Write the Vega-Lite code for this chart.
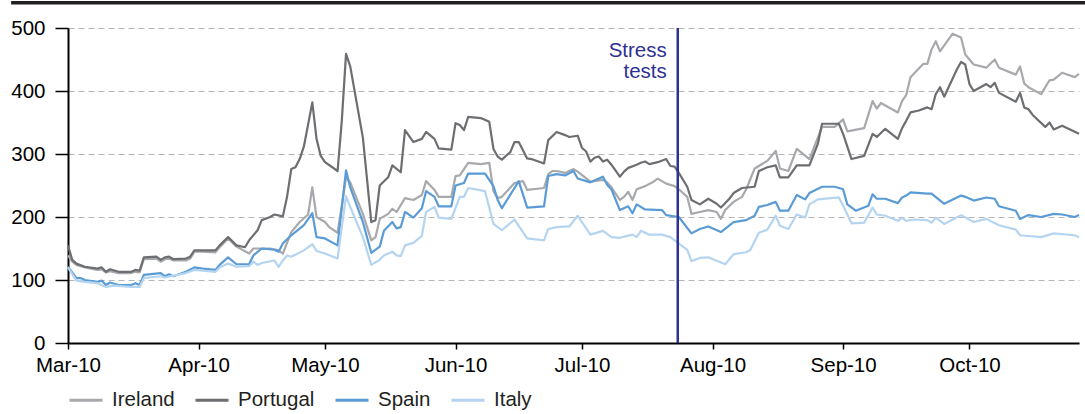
{
  "$schema": "https://vega.github.io/schema/vega-lite/v6.json",
  "width": 1011,
  "height": 315,
  "autosize": {"type": "none"},
  "padding": {"left": 68, "top": 28, "right": 6, "bottom": 71},
  "background": "white",
  "config": {
    "font": "Liberation Sans",
    "view": {"stroke": null},
    "legend": {"labelFont": "Liberation Sans"}
  },
  "datasets": {
    "cds": [
      {"c":"Ireland","d":"2010-03-01","v":139},{"c":"Ireland","d":"2010-03-02","v":129},{"c":"Ireland","d":"2010-03-03","v":124},{"c":"Ireland","d":"2010-03-05","v":120},{"c":"Ireland","d":"2010-03-08","v":116},{"c":"Ireland","d":"2010-03-09","v":117},{"c":"Ireland","d":"2010-03-10","v":112},{"c":"Ireland","d":"2010-03-11","v":114},{"c":"Ireland","d":"2010-03-13","v":111},{"c":"Ireland","d":"2010-03-16","v":111},{"c":"Ireland","d":"2010-03-17","v":113},{"c":"Ireland","d":"2010-03-18","v":112},{"c":"Ireland","d":"2010-03-19","v":133},{"c":"Ireland","d":"2010-03-22","v":134},{"c":"Ireland","d":"2010-03-23","v":129},{"c":"Ireland","d":"2010-03-24","v":133},{"c":"Ireland","d":"2010-03-25","v":134},{"c":"Ireland","d":"2010-03-26","v":131},{"c":"Ireland","d":"2010-03-29","v":131},{"c":"Ireland","d":"2010-03-30","v":134},{"c":"Ireland","d":"2010-03-31","v":145},{"c":"Ireland","d":"2010-04-02","v":145},{"c":"Ireland","d":"2010-04-05","v":144},{"c":"Ireland","d":"2010-04-06","v":152},{"c":"Ireland","d":"2010-04-08","v":166},{"c":"Ireland","d":"2010-04-10","v":153},{"c":"Ireland","d":"2010-04-13","v":142},{"c":"Ireland","d":"2010-04-14","v":150},{"c":"Ireland","d":"2010-04-18","v":150},{"c":"Ireland","d":"2010-04-20","v":147},{"c":"Ireland","d":"2010-04-21","v":142},{"c":"Ireland","d":"2010-04-22","v":159},{"c":"Ireland","d":"2010-04-23","v":176},{"c":"Ireland","d":"2010-04-25","v":192},{"c":"Ireland","d":"2010-04-27","v":204},{"c":"Ireland","d":"2010-04-28","v":247},{"c":"Ireland","d":"2010-04-29","v":200},{"c":"Ireland","d":"2010-05-01","v":192},{"c":"Ireland","d":"2010-05-02","v":184},{"c":"Ireland","d":"2010-05-04","v":175},{"c":"Ireland","d":"2010-05-05","v":218},{"c":"Ireland","d":"2010-05-06","v":263},{"c":"Ireland","d":"2010-05-07","v":255},{"c":"Ireland","d":"2010-05-10","v":205},{"c":"Ireland","d":"2010-05-12","v":163},{"c":"Ireland","d":"2010-05-13","v":168},{"c":"Ireland","d":"2010-05-14","v":197},{"c":"Ireland","d":"2010-05-16","v":205},{"c":"Ireland","d":"2010-05-17","v":213},{"c":"Ireland","d":"2010-05-18","v":208},{"c":"Ireland","d":"2010-05-20","v":230},{"c":"Ireland","d":"2010-05-22","v":227},{"c":"Ireland","d":"2010-05-24","v":235},{"c":"Ireland","d":"2010-05-25","v":257},{"c":"Ireland","d":"2010-05-27","v":243},{"c":"Ireland","d":"2010-05-28","v":232},{"c":"Ireland","d":"2010-05-31","v":232},{"c":"Ireland","d":"2010-06-01","v":265},{"c":"Ireland","d":"2010-06-02","v":266},{"c":"Ireland","d":"2010-06-04","v":286},{"c":"Ireland","d":"2010-06-07","v":284},{"c":"Ireland","d":"2010-06-09","v":286},{"c":"Ireland","d":"2010-06-10","v":241},{"c":"Ireland","d":"2010-06-11","v":230},{"c":"Ireland","d":"2010-06-12","v":232},{"c":"Ireland","d":"2010-06-15","v":254},{"c":"Ireland","d":"2010-06-17","v":257},{"c":"Ireland","d":"2010-06-18","v":243},{"c":"Ireland","d":"2010-06-22","v":246},{"c":"Ireland","d":"2010-06-23","v":268},{"c":"Ireland","d":"2010-06-24","v":273},{"c":"Ireland","d":"2010-06-25","v":273},{"c":"Ireland","d":"2010-06-27","v":270},{"c":"Ireland","d":"2010-06-29","v":276},{"c":"Ireland","d":"2010-06-30","v":272},{"c":"Ireland","d":"2010-07-03","v":256},{"c":"Ireland","d":"2010-07-06","v":259},{"c":"Ireland","d":"2010-07-07","v":255},{"c":"Ireland","d":"2010-07-08","v":247},{"c":"Ireland","d":"2010-07-10","v":227},{"c":"Ireland","d":"2010-07-11","v":232},{"c":"Ireland","d":"2010-07-12","v":240},{"c":"Ireland","d":"2010-07-13","v":227},{"c":"Ireland","d":"2010-07-14","v":244},{"c":"Ireland","d":"2010-07-16","v":249},{"c":"Ireland","d":"2010-07-18","v":256},{"c":"Ireland","d":"2010-07-19","v":261},{"c":"Ireland","d":"2010-07-21","v":253},{"c":"Ireland","d":"2010-07-23","v":249},{"c":"Ireland","d":"2010-07-24","v":244},{"c":"Ireland","d":"2010-07-26","v":232},{"c":"Ireland","d":"2010-07-27","v":205},{"c":"Ireland","d":"2010-07-29","v":208},{"c":"Ireland","d":"2010-07-31","v":211},{"c":"Ireland","d":"2010-08-02","v":208},{"c":"Ireland","d":"2010-08-03","v":197},{"c":"Ireland","d":"2010-08-04","v":211},{"c":"Ireland","d":"2010-08-06","v":224},{"c":"Ireland","d":"2010-08-08","v":232},{"c":"Ireland","d":"2010-08-09","v":244},{"c":"Ireland","d":"2010-08-11","v":277},{"c":"Ireland","d":"2010-08-14","v":289},{"c":"Ireland","d":"2010-08-16","v":305},{"c":"Ireland","d":"2010-08-17","v":277},{"c":"Ireland","d":"2010-08-19","v":273},{"c":"Ireland","d":"2010-08-21","v":308},{"c":"Ireland","d":"2010-08-24","v":292},{"c":"Ireland","d":"2010-08-27","v":343},{"c":"Ireland","d":"2010-08-30","v":343},{"c":"Ireland","d":"2010-09-01","v":355},{"c":"Ireland","d":"2010-09-02","v":336},{"c":"Ireland","d":"2010-09-06","v":341},{"c":"Ireland","d":"2010-09-08","v":384},{"c":"Ireland","d":"2010-09-09","v":372},{"c":"Ireland","d":"2010-09-10","v":381},{"c":"Ireland","d":"2010-09-14","v":366},{"c":"Ireland","d":"2010-09-15","v":384},{"c":"Ireland","d":"2010-09-16","v":394},{"c":"Ireland","d":"2010-09-17","v":422},{"c":"Ireland","d":"2010-09-20","v":443},{"c":"Ireland","d":"2010-09-21","v":443},{"c":"Ireland","d":"2010-09-22","v":466},{"c":"Ireland","d":"2010-09-23","v":479},{"c":"Ireland","d":"2010-09-24","v":463},{"c":"Ireland","d":"2010-09-27","v":491},{"c":"Ireland","d":"2010-09-29","v":485},{"c":"Ireland","d":"2010-09-30","v":458},{"c":"Ireland","d":"2010-10-02","v":442},{"c":"Ireland","d":"2010-10-05","v":437},{"c":"Ireland","d":"2010-10-07","v":450},{"c":"Ireland","d":"2010-10-08","v":437},{"c":"Ireland","d":"2010-10-12","v":426},{"c":"Ireland","d":"2010-10-13","v":439},{"c":"Ireland","d":"2010-10-14","v":412},{"c":"Ireland","d":"2010-10-15","v":406},{"c":"Ireland","d":"2010-10-18","v":395},{"c":"Ireland","d":"2010-10-20","v":417},{"c":"Ireland","d":"2010-10-21","v":418},{"c":"Ireland","d":"2010-10-23","v":429},{"c":"Ireland","d":"2010-10-26","v":422},{"c":"Ireland","d":"2010-10-27","v":427},

      {"c":"Portugal","d":"2010-03-01","v":155},{"c":"Portugal","d":"2010-03-02","v":132},{"c":"Portugal","d":"2010-03-03","v":126},{"c":"Portugal","d":"2010-03-05","v":121},{"c":"Portugal","d":"2010-03-08","v":118},{"c":"Portugal","d":"2010-03-09","v":120},{"c":"Portugal","d":"2010-03-10","v":113},{"c":"Portugal","d":"2010-03-11","v":117},{"c":"Portugal","d":"2010-03-13","v":113},{"c":"Portugal","d":"2010-03-16","v":113},{"c":"Portugal","d":"2010-03-17","v":116},{"c":"Portugal","d":"2010-03-18","v":115},{"c":"Portugal","d":"2010-03-19","v":136},{"c":"Portugal","d":"2010-03-22","v":137},{"c":"Portugal","d":"2010-03-23","v":132},{"c":"Portugal","d":"2010-03-24","v":136},{"c":"Portugal","d":"2010-03-25","v":137},{"c":"Portugal","d":"2010-03-26","v":133},{"c":"Portugal","d":"2010-03-29","v":134},{"c":"Portugal","d":"2010-03-30","v":137},{"c":"Portugal","d":"2010-03-31","v":147},{"c":"Portugal","d":"2010-04-02","v":147},{"c":"Portugal","d":"2010-04-05","v":147},{"c":"Portugal","d":"2010-04-06","v":155},{"c":"Portugal","d":"2010-04-08","v":168},{"c":"Portugal","d":"2010-04-10","v":155},{"c":"Portugal","d":"2010-04-12","v":152},{"c":"Portugal","d":"2010-04-13","v":163},{"c":"Portugal","d":"2010-04-15","v":179},{"c":"Portugal","d":"2010-04-16","v":195},{"c":"Portugal","d":"2010-04-18","v":200},{"c":"Portugal","d":"2010-04-19","v":204},{"c":"Portugal","d":"2010-04-21","v":201},{"c":"Portugal","d":"2010-04-22","v":232},{"c":"Portugal","d":"2010-04-23","v":276},{"c":"Portugal","d":"2010-04-24","v":279},{"c":"Portugal","d":"2010-04-25","v":292},{"c":"Portugal","d":"2010-04-26","v":312},{"c":"Portugal","d":"2010-04-28","v":382},{"c":"Portugal","d":"2010-04-29","v":324},{"c":"Portugal","d":"2010-04-30","v":297},{"c":"Portugal","d":"2010-05-01","v":287},{"c":"Portugal","d":"2010-05-04","v":273},{"c":"Portugal","d":"2010-05-05","v":353},{"c":"Portugal","d":"2010-05-06","v":459},{"c":"Portugal","d":"2010-05-07","v":439},{"c":"Portugal","d":"2010-05-10","v":326},{"c":"Portugal","d":"2010-05-12","v":192},{"c":"Portugal","d":"2010-05-13","v":195},{"c":"Portugal","d":"2010-05-14","v":250},{"c":"Portugal","d":"2010-05-16","v":263},{"c":"Portugal","d":"2010-05-17","v":282},{"c":"Portugal","d":"2010-05-19","v":271},{"c":"Portugal","d":"2010-05-20","v":338},{"c":"Portugal","d":"2010-05-22","v":319},{"c":"Portugal","d":"2010-05-24","v":324},{"c":"Portugal","d":"2010-05-25","v":335},{"c":"Portugal","d":"2010-05-27","v":324},{"c":"Portugal","d":"2010-05-28","v":309},{"c":"Portugal","d":"2010-05-31","v":307},{"c":"Portugal","d":"2010-06-01","v":349},{"c":"Portugal","d":"2010-06-02","v":346},{"c":"Portugal","d":"2010-06-03","v":338},{"c":"Portugal","d":"2010-06-04","v":359},{"c":"Portugal","d":"2010-06-07","v":357},{"c":"Portugal","d":"2010-06-09","v":351},{"c":"Portugal","d":"2010-06-10","v":308},{"c":"Portugal","d":"2010-06-11","v":296},{"c":"Portugal","d":"2010-06-12","v":291},{"c":"Portugal","d":"2010-06-14","v":303},{"c":"Portugal","d":"2010-06-15","v":319},{"c":"Portugal","d":"2010-06-16","v":319},{"c":"Portugal","d":"2010-06-18","v":293},{"c":"Portugal","d":"2010-06-19","v":292},{"c":"Portugal","d":"2010-06-22","v":285},{"c":"Portugal","d":"2010-06-23","v":322},{"c":"Portugal","d":"2010-06-25","v":335},{"c":"Portugal","d":"2010-06-27","v":330},{"c":"Portugal","d":"2010-06-28","v":327},{"c":"Portugal","d":"2010-06-30","v":329},{"c":"Portugal","d":"2010-07-01","v":310},{"c":"Portugal","d":"2010-07-02","v":304},{"c":"Portugal","d":"2010-07-03","v":288},{"c":"Portugal","d":"2010-07-04","v":294},{"c":"Portugal","d":"2010-07-05","v":296},{"c":"Portugal","d":"2010-07-06","v":288},{"c":"Portugal","d":"2010-07-07","v":291},{"c":"Portugal","d":"2010-07-08","v":283},{"c":"Portugal","d":"2010-07-10","v":264},{"c":"Portugal","d":"2010-07-11","v":272},{"c":"Portugal","d":"2010-07-12","v":278},{"c":"Portugal","d":"2010-07-14","v":283},{"c":"Portugal","d":"2010-07-15","v":286},{"c":"Portugal","d":"2010-07-16","v":288},{"c":"Portugal","d":"2010-07-17","v":284},{"c":"Portugal","d":"2010-07-19","v":287},{"c":"Portugal","d":"2010-07-21","v":292},{"c":"Portugal","d":"2010-07-22","v":281},{"c":"Portugal","d":"2010-07-23","v":280},{"c":"Portugal","d":"2010-07-24","v":270},{"c":"Portugal","d":"2010-07-26","v":248},{"c":"Portugal","d":"2010-07-27","v":227},{"c":"Portugal","d":"2010-07-29","v":220},{"c":"Portugal","d":"2010-07-31","v":229},{"c":"Portugal","d":"2010-08-02","v":221},{"c":"Portugal","d":"2010-08-03","v":215},{"c":"Portugal","d":"2010-08-05","v":229},{"c":"Portugal","d":"2010-08-06","v":238},{"c":"Portugal","d":"2010-08-08","v":246},{"c":"Portugal","d":"2010-08-11","v":248},{"c":"Portugal","d":"2010-08-12","v":273},{"c":"Portugal","d":"2010-08-14","v":279},{"c":"Portugal","d":"2010-08-16","v":282},{"c":"Portugal","d":"2010-08-17","v":263},{"c":"Portugal","d":"2010-08-19","v":263},{"c":"Portugal","d":"2010-08-21","v":282},{"c":"Portugal","d":"2010-08-24","v":282},{"c":"Portugal","d":"2010-08-26","v":316},{"c":"Portugal","d":"2010-08-27","v":348},{"c":"Portugal","d":"2010-08-31","v":348},{"c":"Portugal","d":"2010-09-01","v":332},{"c":"Portugal","d":"2010-09-03","v":292},{"c":"Portugal","d":"2010-09-06","v":297},{"c":"Portugal","d":"2010-09-08","v":332},{"c":"Portugal","d":"2010-09-09","v":327},{"c":"Portugal","d":"2010-09-11","v":340},{"c":"Portugal","d":"2010-09-14","v":324},{"c":"Portugal","d":"2010-09-15","v":341},{"c":"Portugal","d":"2010-09-16","v":353},{"c":"Portugal","d":"2010-09-17","v":366},{"c":"Portugal","d":"2010-09-19","v":369},{"c":"Portugal","d":"2010-09-21","v":374},{"c":"Portugal","d":"2010-09-22","v":371},{"c":"Portugal","d":"2010-09-23","v":395},{"c":"Portugal","d":"2010-09-24","v":406},{"c":"Portugal","d":"2010-09-25","v":391},{"c":"Portugal","d":"2010-09-28","v":434},{"c":"Portugal","d":"2010-09-29","v":446},{"c":"Portugal","d":"2010-09-30","v":442},{"c":"Portugal","d":"2010-10-01","v":411},{"c":"Portugal","d":"2010-10-02","v":400},{"c":"Portugal","d":"2010-10-05","v":411},{"c":"Portugal","d":"2010-10-06","v":406},{"c":"Portugal","d":"2010-10-07","v":413},{"c":"Portugal","d":"2010-10-08","v":397},{"c":"Portugal","d":"2010-10-12","v":383},{"c":"Portugal","d":"2010-10-13","v":397},{"c":"Portugal","d":"2010-10-14","v":374},{"c":"Portugal","d":"2010-10-15","v":371},{"c":"Portugal","d":"2010-10-16","v":362},{"c":"Portugal","d":"2010-10-19","v":343},{"c":"Portugal","d":"2010-10-20","v":350},{"c":"Portugal","d":"2010-10-21","v":339},{"c":"Portugal","d":"2010-10-23","v":345},{"c":"Portugal","d":"2010-10-27","v":332},

      {"c":"Spain","d":"2010-03-01","v":121},{"c":"Spain","d":"2010-03-03","v":103},{"c":"Spain","d":"2010-03-04","v":103},{"c":"Spain","d":"2010-03-05","v":100},{"c":"Spain","d":"2010-03-08","v":97},{"c":"Spain","d":"2010-03-09","v":99},{"c":"Spain","d":"2010-03-10","v":92},{"c":"Spain","d":"2010-03-11","v":96},{"c":"Spain","d":"2010-03-13","v":92},{"c":"Spain","d":"2010-03-16","v":92},{"c":"Spain","d":"2010-03-17","v":95},{"c":"Spain","d":"2010-03-18","v":92},{"c":"Spain","d":"2010-03-19","v":108},{"c":"Spain","d":"2010-03-23","v":111},{"c":"Spain","d":"2010-03-24","v":106},{"c":"Spain","d":"2010-03-25","v":109},{"c":"Spain","d":"2010-03-26","v":106},{"c":"Spain","d":"2010-03-29","v":113},{"c":"Spain","d":"2010-03-31","v":120},{"c":"Spain","d":"2010-04-02","v":118},{"c":"Spain","d":"2010-04-05","v":116},{"c":"Spain","d":"2010-04-06","v":124},{"c":"Spain","d":"2010-04-08","v":136},{"c":"Spain","d":"2010-04-10","v":125},{"c":"Spain","d":"2010-04-13","v":125},{"c":"Spain","d":"2010-04-14","v":139},{"c":"Spain","d":"2010-04-16","v":150},{"c":"Spain","d":"2010-04-19","v":148},{"c":"Spain","d":"2010-04-20","v":145},{"c":"Spain","d":"2010-04-21","v":158},{"c":"Spain","d":"2010-04-23","v":171},{"c":"Spain","d":"2010-04-26","v":187},{"c":"Spain","d":"2010-04-28","v":206},{"c":"Spain","d":"2010-04-29","v":168},{"c":"Spain","d":"2010-05-01","v":166},{"c":"Spain","d":"2010-05-04","v":155},{"c":"Spain","d":"2010-05-05","v":215},{"c":"Spain","d":"2010-05-06","v":274},{"c":"Spain","d":"2010-05-07","v":247},{"c":"Spain","d":"2010-05-10","v":192},{"c":"Spain","d":"2010-05-12","v":143},{"c":"Spain","d":"2010-05-14","v":153},{"c":"Spain","d":"2010-05-15","v":178},{"c":"Spain","d":"2010-05-17","v":192},{"c":"Spain","d":"2010-05-18","v":182},{"c":"Spain","d":"2010-05-19","v":184},{"c":"Spain","d":"2010-05-20","v":208},{"c":"Spain","d":"2010-05-22","v":199},{"c":"Spain","d":"2010-05-24","v":214},{"c":"Spain","d":"2010-05-25","v":241},{"c":"Spain","d":"2010-05-27","v":232},{"c":"Spain","d":"2010-05-28","v":217},{"c":"Spain","d":"2010-05-31","v":217},{"c":"Spain","d":"2010-06-01","v":250},{"c":"Spain","d":"2010-06-03","v":254},{"c":"Spain","d":"2010-06-04","v":269},{"c":"Spain","d":"2010-06-08","v":269},{"c":"Spain","d":"2010-06-10","v":249},{"c":"Spain","d":"2010-06-11","v":227},{"c":"Spain","d":"2010-06-12","v":214},{"c":"Spain","d":"2010-06-15","v":246},{"c":"Spain","d":"2010-06-16","v":257},{"c":"Spain","d":"2010-06-18","v":215},{"c":"Spain","d":"2010-06-22","v":217},{"c":"Spain","d":"2010-06-23","v":265},{"c":"Spain","d":"2010-06-25","v":268},{"c":"Spain","d":"2010-06-27","v":266},{"c":"Spain","d":"2010-06-29","v":273},{"c":"Spain","d":"2010-06-30","v":261},{"c":"Spain","d":"2010-07-03","v":255},{"c":"Spain","d":"2010-07-06","v":264},{"c":"Spain","d":"2010-07-07","v":251},{"c":"Spain","d":"2010-07-08","v":244},{"c":"Spain","d":"2010-07-10","v":211},{"c":"Spain","d":"2010-07-12","v":217},{"c":"Spain","d":"2010-07-13","v":206},{"c":"Spain","d":"2010-07-14","v":220},{"c":"Spain","d":"2010-07-16","v":212},{"c":"Spain","d":"2010-07-20","v":211},{"c":"Spain","d":"2010-07-21","v":203},{"c":"Spain","d":"2010-07-24","v":200},{"c":"Spain","d":"2010-07-27","v":174},{"c":"Spain","d":"2010-07-29","v":181},{"c":"Spain","d":"2010-07-31","v":185},{"c":"Spain","d":"2010-08-03","v":176},{"c":"Spain","d":"2010-08-06","v":192},{"c":"Spain","d":"2010-08-09","v":195},{"c":"Spain","d":"2010-08-11","v":202},{"c":"Spain","d":"2010-08-12","v":216},{"c":"Spain","d":"2010-08-14","v":219},{"c":"Spain","d":"2010-08-16","v":224},{"c":"Spain","d":"2010-08-17","v":210},{"c":"Spain","d":"2010-08-19","v":210},{"c":"Spain","d":"2010-08-21","v":235},{"c":"Spain","d":"2010-08-23","v":228},{"c":"Spain","d":"2010-08-24","v":238},{"c":"Spain","d":"2010-08-27","v":248},{"c":"Spain","d":"2010-08-30","v":248},{"c":"Spain","d":"2010-09-01","v":244},{"c":"Spain","d":"2010-09-02","v":220},{"c":"Spain","d":"2010-09-04","v":210},{"c":"Spain","d":"2010-09-07","v":218},{"c":"Spain","d":"2010-09-08","v":236},{"c":"Spain","d":"2010-09-09","v":229},{"c":"Spain","d":"2010-09-11","v":229},{"c":"Spain","d":"2010-09-14","v":222},{"c":"Spain","d":"2010-09-15","v":231},{"c":"Spain","d":"2010-09-16","v":234},{"c":"Spain","d":"2010-09-17","v":239},{"c":"Spain","d":"2010-09-21","v":237},{"c":"Spain","d":"2010-09-22","v":237},{"c":"Spain","d":"2010-09-25","v":221},{"c":"Spain","d":"2010-09-29","v":234},{"c":"Spain","d":"2010-09-30","v":232},{"c":"Spain","d":"2010-10-02","v":226},{"c":"Spain","d":"2010-10-05","v":231},{"c":"Spain","d":"2010-10-07","v":229},{"c":"Spain","d":"2010-10-08","v":217},{"c":"Spain","d":"2010-10-12","v":210},{"c":"Spain","d":"2010-10-13","v":197},{"c":"Spain","d":"2010-10-15","v":203},{"c":"Spain","d":"2010-10-18","v":200},{"c":"Spain","d":"2010-10-21","v":205},{"c":"Spain","d":"2010-10-23","v":204},{"c":"Spain","d":"2010-10-26","v":200},{"c":"Spain","d":"2010-10-27","v":203},

      {"c":"Italy","d":"2010-03-01","v":120},{"c":"Italy","d":"2010-03-03","v":99},{"c":"Italy","d":"2010-03-05","v":97},{"c":"Italy","d":"2010-03-08","v":95},{"c":"Italy","d":"2010-03-10","v":89},{"c":"Italy","d":"2010-03-12","v":91},{"c":"Italy","d":"2010-03-16","v":89},{"c":"Italy","d":"2010-03-18","v":89},{"c":"Italy","d":"2010-03-19","v":103},{"c":"Italy","d":"2010-03-23","v":106},{"c":"Italy","d":"2010-03-24","v":104},{"c":"Italy","d":"2010-03-29","v":111},{"c":"Italy","d":"2010-03-31","v":116},{"c":"Italy","d":"2010-04-02","v":115},{"c":"Italy","d":"2010-04-05","v":113},{"c":"Italy","d":"2010-04-06","v":120},{"c":"Italy","d":"2010-04-08","v":126},{"c":"Italy","d":"2010-04-10","v":121},{"c":"Italy","d":"2010-04-13","v":122},{"c":"Italy","d":"2010-04-14","v":129},{"c":"Italy","d":"2010-04-15","v":124},{"c":"Italy","d":"2010-04-16","v":127},{"c":"Italy","d":"2010-04-19","v":131},{"c":"Italy","d":"2010-04-20","v":121},{"c":"Italy","d":"2010-04-21","v":131},{"c":"Italy","d":"2010-04-22","v":139},{"c":"Italy","d":"2010-04-23","v":137},{"c":"Italy","d":"2010-04-26","v":147},{"c":"Italy","d":"2010-04-28","v":157},{"c":"Italy","d":"2010-04-29","v":146},{"c":"Italy","d":"2010-05-01","v":142},{"c":"Italy","d":"2010-05-04","v":134},{"c":"Italy","d":"2010-05-05","v":184},{"c":"Italy","d":"2010-05-06","v":233},{"c":"Italy","d":"2010-05-07","v":216},{"c":"Italy","d":"2010-05-10","v":168},{"c":"Italy","d":"2010-05-12","v":124},{"c":"Italy","d":"2010-05-14","v":132},{"c":"Italy","d":"2010-05-15","v":139},{"c":"Italy","d":"2010-05-17","v":145},{"c":"Italy","d":"2010-05-18","v":139},{"c":"Italy","d":"2010-05-19","v":138},{"c":"Italy","d":"2010-05-20","v":155},{"c":"Italy","d":"2010-05-22","v":159},{"c":"Italy","d":"2010-05-24","v":170},{"c":"Italy","d":"2010-05-25","v":208},{"c":"Italy","d":"2010-05-27","v":216},{"c":"Italy","d":"2010-05-28","v":199},{"c":"Italy","d":"2010-05-31","v":197},{"c":"Italy","d":"2010-06-02","v":232},{"c":"Italy","d":"2010-06-03","v":232},{"c":"Italy","d":"2010-06-04","v":246},{"c":"Italy","d":"2010-06-08","v":241},{"c":"Italy","d":"2010-06-10","v":189},{"c":"Italy","d":"2010-06-12","v":179},{"c":"Italy","d":"2010-06-15","v":196},{"c":"Italy","d":"2010-06-16","v":186},{"c":"Italy","d":"2010-06-18","v":166},{"c":"Italy","d":"2010-06-22","v":163},{"c":"Italy","d":"2010-06-23","v":181},{"c":"Italy","d":"2010-06-25","v":184},{"c":"Italy","d":"2010-06-28","v":185},{"c":"Italy","d":"2010-06-30","v":202},{"c":"Italy","d":"2010-07-03","v":172},{"c":"Italy","d":"2010-07-06","v":178},{"c":"Italy","d":"2010-07-08","v":168},{"c":"Italy","d":"2010-07-10","v":167},{"c":"Italy","d":"2010-07-13","v":172},{"c":"Italy","d":"2010-07-14","v":168},{"c":"Italy","d":"2010-07-15","v":178},{"c":"Italy","d":"2010-07-17","v":172},{"c":"Italy","d":"2010-07-20","v":172},{"c":"Italy","d":"2010-07-22","v":168},{"c":"Italy","d":"2010-07-23","v":163},{"c":"Italy","d":"2010-07-26","v":148},{"c":"Italy","d":"2010-07-27","v":130},{"c":"Italy","d":"2010-07-29","v":135},{"c":"Italy","d":"2010-07-31","v":136},{"c":"Italy","d":"2010-08-04","v":125},{"c":"Italy","d":"2010-08-06","v":141},{"c":"Italy","d":"2010-08-09","v":144},{"c":"Italy","d":"2010-08-10","v":148},{"c":"Italy","d":"2010-08-12","v":175},{"c":"Italy","d":"2010-08-14","v":180},{"c":"Italy","d":"2010-08-16","v":202},{"c":"Italy","d":"2010-08-17","v":186},{"c":"Italy","d":"2010-08-19","v":181},{"c":"Italy","d":"2010-08-21","v":204},{"c":"Italy","d":"2010-08-23","v":199},{"c":"Italy","d":"2010-08-24","v":220},{"c":"Italy","d":"2010-08-26","v":228},{"c":"Italy","d":"2010-08-31","v":231},{"c":"Italy","d":"2010-09-01","v":218},{"c":"Italy","d":"2010-09-03","v":190},{"c":"Italy","d":"2010-09-06","v":191},{"c":"Italy","d":"2010-09-08","v":215},{"c":"Italy","d":"2010-09-09","v":204},{"c":"Italy","d":"2010-09-11","v":202},{"c":"Italy","d":"2010-09-14","v":194},{"c":"Italy","d":"2010-09-15","v":199},{"c":"Italy","d":"2010-09-16","v":194},{"c":"Italy","d":"2010-09-18","v":196},{"c":"Italy","d":"2010-09-21","v":195},{"c":"Italy","d":"2010-09-22","v":191},{"c":"Italy","d":"2010-09-23","v":199},{"c":"Italy","d":"2010-09-25","v":189},{"c":"Italy","d":"2010-09-29","v":203},{"c":"Italy","d":"2010-10-02","v":192},{"c":"Italy","d":"2010-10-05","v":197},{"c":"Italy","d":"2010-10-08","v":187},{"c":"Italy","d":"2010-10-12","v":180},{"c":"Italy","d":"2010-10-13","v":171},{"c":"Italy","d":"2010-10-18","v":168},{"c":"Italy","d":"2010-10-21","v":174},{"c":"Italy","d":"2010-10-26","v":171},{"c":"Italy","d":"2010-10-27","v":168}
    ],
    "event": [{"d": "2010-07-23T18:00:00Z", "label": "Stress tests"}],
    "frame": [{"d0": "2010-02-15T12:00:00Z", "d1": "2010-10-30", "top": 540}]
  },
  "layer": [
    {
      "data": {"name": "frame"},
      "mark": {"type": "rule", "color": "#231f20", "strokeWidth": 3.5},
      "encoding": {
        "x": {"field": "d0", "type": "temporal", "scale": {"type": "utc", "domain": ["2010-03-01", "2010-10-27"]}, "axis": {"title": null}},
        "x2": {"field": "d1"},
        "y": {"field": "top", "type": "quantitative", "scale": {"domain": [0, 500]}, "axis": {"title": null}}
      }
    },
    {
      "data": {"name": "cds"},
      "mark": {"type": "line", "strokeWidth": 2.2, "strokeJoin": "round"},
      "encoding": {
        "x": {
          "field": "d", "type": "temporal",
          "scale": {"type": "utc", "domain": ["2010-03-01", "2010-10-27"]},
          "axis": {
            "title": null, "format": "%b-%y", "tickCount": {"interval": "month", "step": 1},
            "labelFontSize": 20.5, "labelColor": "#000000", "labelFlush": false, "labelOverlap": false, "labelAngle": 0,
            "domainColor": "#000000", "domainWidth": 2, "tickColor": "#000000", "tickWidth": 1.5, "tickSize": 6,
            "labelPadding": 6, "grid": false
          }
        },
        "y": {
          "field": "v", "type": "quantitative",
          "scale": {"domain": [0, 500]},
          "axis": {
            "title": null, "values": [0, 100, 200, 300, 400, 500],
            "labelFontSize": 20.5, "labelColor": "#000000", "labelPadding": 10,
            "domainColor": "#000000", "domainWidth": 2, "tickColor": "#000000", "tickWidth": 1.5, "tickSize": 13,
            "grid": true, "gridDash": [6, 4], "gridColor": "#b5b5b5", "gridWidth": 1
          }
        },
        "color": {
          "field": "c", "type": "nominal",
          "scale": {"domain": ["Ireland", "Portugal", "Spain", "Italy"], "range": ["#a7a9ac", "#6d6e71", "#5b9bd5", "#b4d4f0"]},
          "legend": {
            "title": null, "orient": "bottom", "direction": "horizontal", "offset": 6,
            "symbolType": "stroke", "symbolSize": 1089, "symbolStrokeWidth": 3,
            "labelFontSize": 20.5, "labelColor": "#231f20", "labelOffset": 8, "columnPadding": 14
          }
        }
      }
    },
    {
      "data": {"name": "event"},
      "mark": {"type": "rule", "color": "#2e3192", "strokeWidth": 2.5},
      "encoding": {
        "x": {"field": "d", "type": "temporal", "scale": {"type": "utc", "domain": ["2010-03-01", "2010-10-27"]}, "axis": {"title": null}}
      }
    },
    {
      "data": {"name": "event"},
      "mark": {"type": "text", "text": ["Stress", "tests"], "align": "right", "baseline": "alphabetic", "dx": -11, "fontSize": 20.5, "color": "#2e3192", "lineHeight": 21},
      "encoding": {
        "x": {"field": "d", "type": "temporal", "scale": {"type": "utc", "domain": ["2010-03-01", "2010-10-27"]}, "axis": {"title": null}},
        "y": {"datum": 454, "type": "quantitative", "scale": {"domain": [0, 500]}, "axis": {"title": null}}
      }
    }
  ]
}
